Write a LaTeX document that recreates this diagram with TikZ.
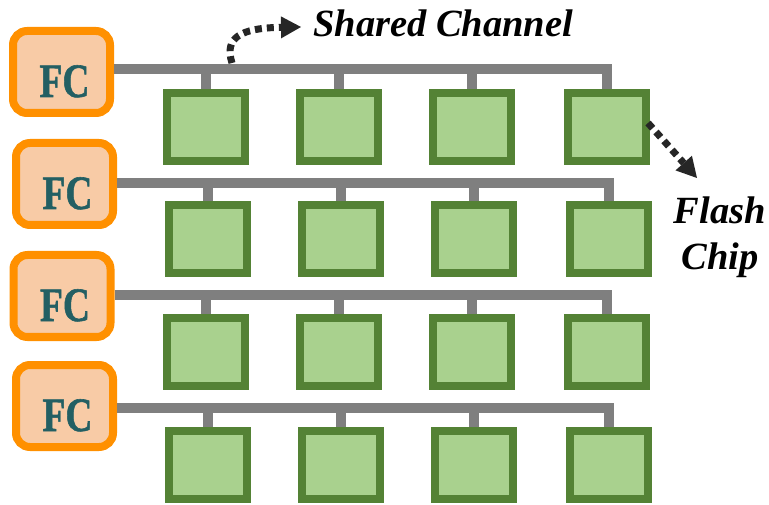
\documentclass[tikz,border=0pt]{standalone}
\usepackage{fontspec}
\setmainfont{Liberation Serif}
\newfontfamily\heavyserif[FakeBold=1.2]{Liberation Serif Bold}
\usetikzlibrary{arrows.meta,calc}

\definecolor{fcorange}{HTML}{FF9000}
\definecolor{fcfill}{HTML}{F8CBA6}
\definecolor{fcink}{HTML}{235F63}
\definecolor{chipedge}{HTML}{548235}
\definecolor{chipfill}{HTML}{A9D18E}
\definecolor{busgray}{HTML}{7F7F7F}
\definecolor{arrowink}{HTML}{262626}

% FC label: lowered below the box centre and slightly condensed
\newcommand\fcmark{\hspace*{6pt}\raisebox{-25pt}[0pt][0pt]{\scalebox{0.78}[1]{FC}}}

\begin{document}
\begin{tikzpicture}[x=1pt,y=-1pt,
  fcbox/.style={draw=fcorange, fill=fcfill, line width=8pt, rounded corners=14pt,
    minimum width=97pt, minimum height=82pt, inner sep=0pt, text=fcink,
    font=\heavyserif\fontsize{48}{48}\selectfont},
  chipbox/.style={draw=chipedge, fill=chipfill, line width=8pt,
    minimum width=78pt, minimum height=68pt, inner sep=0pt},
  bus/.style={draw=busgray, line width=10pt},
  pointer/.style={draw=arrowink, line width=7pt, dash pattern=on 7pt off 5pt,
    -{Triangle[length=20pt,width=22pt,line width=0pt]}},
  notetext/.style={font=\bfseries\itshape\fontsize{38.5}{46}\selectfont, text=black, inner sep=0pt}
]
\useasboundingbox (0,0) rectangle (769,505);

% flash controllers
\node[fcbox] (fc-1) at (61.5,72)  {\fcmark};
\node[fcbox] (fc-2) at (64.5,184) {\fcmark};
\node[fcbox] (fc-3) at (62,296)   {\fcmark};
\node[fcbox] (fc-4) at (64.5,406) {\fcmark};

% channels: row / bus height / chip centre height / horizontal offset
\foreach \r/\by/\cy/\dx in {1/69/127/0, 2/183/239.5/2, 3/295/352/0, 4/408/464.5/2}{
  \foreach \k/\cx in {1/205.5, 2/338.5, 3/471.5, 4/607}{
    \coordinate (t-\r-\k) at (\cx+\dx,\by);
  }
  % shared bus from the controller to the last chip
  \draw[bus] (fc-\r.east |- t-\r-1) -- (t-\r-4) -- ++(0,24);
  \foreach \k/\cx in {1/206, 2/339, 3/472, 4/607}{
    \draw[bus] (t-\r-\k) -- ++(0,20);
    \node[chipbox] (c-\r-\k) at (\cx+\dx,\cy) {};
  }
}

% annotations
\coordinate (sc-start) at (232,63);
\coordinate (sc-tip) at (301,27);
\draw[pointer] (sc-start) .. controls (224,38) and (240,28) .. (sc-tip);
\node[notetext, anchor=base west] (sc-text) at (313,37) {Shared Channel};

\coordinate (fl-tip) at (697,178);
\draw[pointer] ($(c-1-4.east)+(-2,-4)$) -- (fl-tip);
\node[notetext, anchor=base] (fl-text) at (720,224) {Flash};
\node[notetext, anchor=base] (ch-text) at (720,270) {Chip};
\end{tikzpicture}
\end{document}
